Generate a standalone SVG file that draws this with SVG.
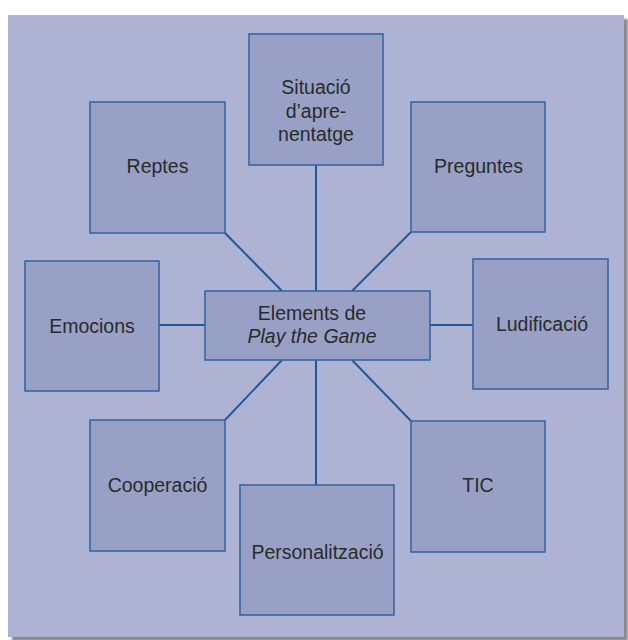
<svg xmlns="http://www.w3.org/2000/svg" width="628" height="640" viewBox="0 0 628 640">
<defs>
<style>
.box{fill:#98a1c5;stroke:#2f63a0;stroke-width:1.5}
.lbl{font-family:"Liberation Sans",Arial,sans-serif;font-size:19.5px;fill:#2a2a2a;text-anchor:middle}
.con line{stroke:#1f5a98;stroke-width:2}
</style>
<filter id="sh" x="-5%" y="-5%" width="110%" height="110%"><feGaussianBlur stdDeviation="1"/></filter>
</defs>
<rect x="0" y="0" width="628" height="640" fill="#ffffff"/>
<rect x="12" y="19" width="616" height="622" fill="#8a8a8a" filter="url(#sh)"/>
<rect x="8" y="15" width="616" height="622" fill="#afb3d3"/>
<g class="con">
<line x1="316" y1="165" x2="316" y2="291"/>
<line x1="316" y1="360" x2="316" y2="485"/>
<line x1="159" y1="325" x2="205" y2="325"/>
<line x1="430" y1="325" x2="473" y2="325"/>
<line x1="225" y1="233" x2="282" y2="291"/>
<line x1="411" y1="232" x2="352" y2="291"/>
<line x1="282" y1="360" x2="225" y2="420"/>
<line x1="352" y1="360" x2="411" y2="421"/>
</g>
<g id="situacio"><rect class="box" x="249" y="34" width="134" height="131"/>
<text class="lbl" x="316" y="94">Situació</text><text class="lbl" x="316" y="118">d’apre-</text><text class="lbl" x="316" y="141">nentatge</text></g>
<g id="reptes"><rect class="box" x="90" y="102" width="135" height="131"/><text class="lbl" x="157.5" y="173">Reptes</text></g>
<g id="preguntes"><rect class="box" x="411" y="102" width="134" height="130"/><text class="lbl" x="478.5" y="173">Preguntes</text></g>
<g id="emocions"><rect class="box" x="25" y="261" width="134" height="130"/><text class="lbl" x="92" y="333">Emocions</text></g>
<g id="ludificacio"><rect class="box" x="473" y="259" width="135" height="130"/><text class="lbl" x="542" y="331">Ludificació</text></g>
<g id="center"><rect class="box" x="205" y="291" width="225" height="69"/>
<text class="lbl" x="312" y="320">Elements de</text><text class="lbl" x="312" y="343" font-style="italic">Play the Game</text></g>
<g id="cooperacio"><rect class="box" x="90" y="420" width="135" height="131"/><text class="lbl" x="157.5" y="492">Cooperació</text></g>
<g id="tic"><rect class="box" x="411" y="421" width="134" height="131"/><text class="lbl" x="478" y="492">TIC</text></g>
<g id="personalitzacio"><rect class="box" x="240" y="485" width="154" height="130"/><text class="lbl" x="317.5" y="559">Personalització</text></g>
</svg>
